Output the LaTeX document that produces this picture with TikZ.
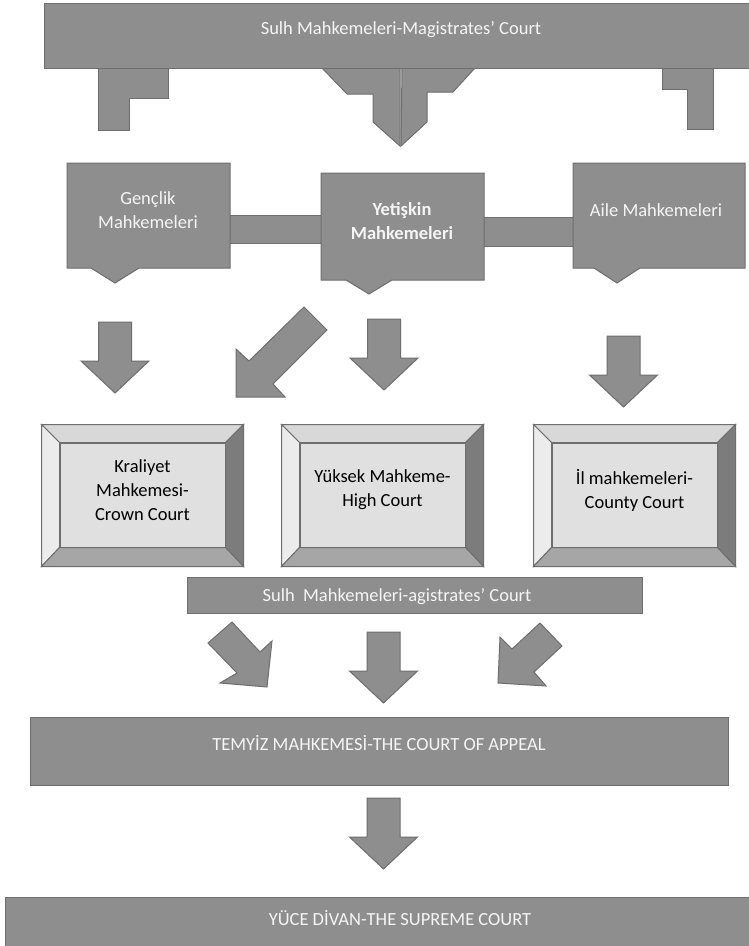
\documentclass[tikz,border=0pt]{standalone}
\usepackage{fontspec}
\setmainfont{Carlito}
\definecolor{boxgray}{RGB}{142,142,142}
\definecolor{edgegray}{RGB}{110,110,110}
\definecolor{bevtop}{RGB}{216,216,216}
\definecolor{bevleft}{RGB}{236,236,236}
\definecolor{bevright}{RGB}{124,124,124}
\definecolor{bevbot}{RGB}{166,166,166}
\definecolor{bevfacec}{RGB}{224,224,224}
\definecolor{lbltext}{RGB}{245,245,245}
\tikzset{
  graybox/.style={fill=boxgray, draw=edgegray, line width=1pt, line join=miter},
  lbl/.style={text=lbltext, font=\fontsize{18.5}{24}\selectfont, align=center, inner sep=0pt},
  dlbl/.style={text=black, font=\fontsize{18.5}{24}\selectfont, align=center, inner sep=0pt},
  bevface/.style={fill=bevfacec, draw=edgegray, line width=1pt, inner sep=0pt},
  downblock/.pic={\filldraw[graybox] (-16.5,0) -- (16.5,0) -- (16.5,39) -- (34,39) -- (0,71) -- (-34,39) -- (-16.5,39) -- cycle;}
}
\newcommand\mybevel[4]{%
  \node[bevface, minimum width=165pt, minimum height=104pt] (#1) at (#2,#3) {};
  \path (#1.north west) ++(-18,-18) coordinate (#1-onw);
  \path (#1.south east) ++(18,19) coordinate (#1-ose);
  \coordinate (#1-one) at (#1-ose |- #1-onw);
  \coordinate (#1-osw) at (#1-onw |- #1-ose);
  \filldraw[fill=bevtop, draw=edgegray, line width=1pt] (#1-onw) -- (#1-one) -- (#1.north east) -- (#1.north west) -- cycle;
  \filldraw[fill=bevleft, draw=edgegray, line width=1pt] (#1-onw) -- (#1.north west) -- (#1.south west) -- (#1-osw) -- cycle;
  \filldraw[fill=bevright, draw=edgegray, line width=1pt] (#1-one) -- (#1-ose) -- (#1.south east) -- (#1.north east) -- cycle;
  \filldraw[fill=bevbot, draw=edgegray, line width=1pt] (#1-osw) -- (#1.south west) -- (#1.south east) -- (#1-ose) -- cycle;
  \draw[edgegray, line width=1pt] (#1.north west) rectangle (#1.south east);
  \node[dlbl] (#1-t) at (#2,#3-5) {#4};
}
\begin{document}
\begin{tikzpicture}[x=1pt,y=-1pt]
\useasboundingbox (0,0) rectangle (749,946);
\fill[white] (0,0) rectangle (749,946);

% callouts under top banner
\filldraw[graybox] (98,68) -- (168,68) -- (168,98) -- (129,98) -- (129,130) -- (98,130) -- cycle;
\filldraw[graybox] (662,68) -- (713,68) -- (713,129) -- (687,129) -- (687,89) -- (662,89) -- cycle;
\filldraw[graybox] (322,68) -- (347,94) -- (373,94) -- (373,122) -- (400,146) -- (400,68) -- cycle;
\filldraw[graybox] (402,68) -- (475,68) -- (453,92) -- (427,92) -- (427,122) -- (401,146) -- cycle;
% top banner
\filldraw[graybox] (44,3) rectangle (752,68);
\node[lbl] (magtop) at (401,30) {Sulh Mahkemeleri-Magistrates’ Court};

% connecting bars
\filldraw[graybox] (228,215) rectangle (323,243);
\filldraw[graybox] (482,217) rectangle (575,246);
% middle boxes
\filldraw[graybox] (67,163) -- (230,163) -- (230,268) -- (139,268) -- (115,283) -- (91,268) -- (67,268) -- cycle;
\filldraw[graybox] (321,173) -- (484,173) -- (484,280) -- (392,280) -- (369,294) -- (346,280) -- (321,280) -- cycle;
\filldraw[graybox] (573,163) -- (745,163) -- (745,268) -- (640,268) -- (617,283) -- (594,268) -- (573,268) -- cycle;
\node[lbl] (youth) at (148,210) {Gençlik\\Mahkemeleri};
\node[lbl, font=\fontsize{18.5}{24}\selectfont\bfseries] (adult) at (402,221) {Yetişkin\\Mahkemeleri};
\node[lbl] (family) at (656,210) {Aile Mahkemeleri};

% arrows row 1
\pic at (115,322) {downblock};
\filldraw[graybox] (304,307) -- (327,330) -- (273,384) -- (285,397) -- (236,397) -- (236,349) -- (249,361) -- cycle;
\pic at (384,319) {downblock};
\pic at (623.5,336) {downblock};

% bevel boxes
\mybevel{crown}{142.5}{495}{Kraliyet\\Mahkemesi-\\Crown Court}
\mybevel{high}{382.5}{495}{Yüksek Mahkeme-\\High Court}
\mybevel{county}{634.5}{495}{İl mahkemeleri-\\County Court}

% second magistrates banner
\filldraw[graybox] (187,577) rectangle (642,613);
\node[lbl] (magmid) at (397,597) {Sulh\ \ Mahkemeleri-agistrates’ Court};

% arrows row 2
\filldraw[graybox] (232,622) -- (260,652) -- (272,641) -- (267,687) -- (220,683) -- (237,673) -- (208,643) -- cycle;
\pic at (383.5,632) {downblock};
\filldraw[graybox] (540,623) -- (562,646) -- (534,672) -- (546,686) -- (498,683) -- (500,637) -- (512,649) -- cycle;

% appeal
\filldraw[graybox] (30,717) rectangle (728,785);
\node[lbl] (appeal) at (379,743) {TEMYİZ MAHKEMESİ-THE COURT OF APPEAL};
\pic at (383.5,798) {downblock};

% supreme
\filldraw[graybox] (5,897) rectangle (752,950);
\node[lbl] (supreme) at (400,918) {YÜCE DİVAN-THE SUPREME COURT};
\end{tikzpicture}
\end{document}
